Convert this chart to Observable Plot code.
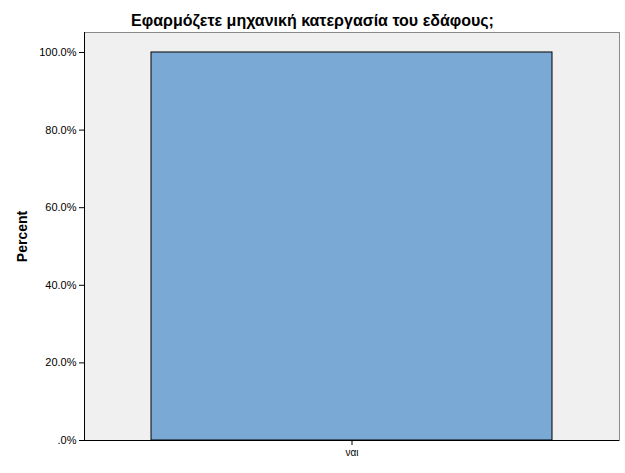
<!DOCTYPE html>
<html><head><meta charset="utf-8">
<script src="https://cdn.jsdelivr.net/npm/d3@7"></script>
<script src="https://cdn.jsdelivr.net/npm/@observablehq/plot@0.6"></script>
<style>
body{margin:0;background:#fff;font-family:"Liberation Sans",Arial,sans-serif}
#title{box-sizing:border-box;height:31px;width:625px;padding-top:13px;text-align:center;font-weight:bold;font-size:16px;line-height:16px;color:#000;white-space:nowrap}
svg{display:block}
</style></head>
<body>
<div id="title">Εφαρμόζετε μηχανική κατεργασία του εδάφους;</div>
<div id="chart"></div>
<script>
const categories = ["ναι"];
const percents = [100];
const yTicks = [0, 20, 40, 60, 80, 100];
const yTickLabels = [".0%", "20.0%", "40.0%", "60.0%", "80.0%", "100.0%"];
const yLabel = "Percent";
const data = categories.map((c, i) => ({category: c, percent: percents[i]}));

const chart = Plot.plot({
  width: 625, height: 442,
  marginTop: 1, marginBottom: 33, marginLeft: 84, marginRight: 6,
  style: {fontFamily: "Liberation Sans, Arial, sans-serif", fontSize: "11px", color: "#000", background: "#fff", overflow: "visible"},
  x: {domain: categories, padding: 1/7},
  y: {domain: [0, 105.15]},
  marks: [
    Plot.frame({fill: "#F0F0F0", stroke: "#8A8A8A"}),
    Plot.barY(data, {x: "category", y: "percent", fill: "#7AA9D6", stroke: "#000", strokeWidth: 1}),
    Plot.frame({anchor: "left", stroke: "#000"}),
    Plot.ruleY([0], {stroke: "#000"}),
    Plot.axisY({ticks: yTicks, tickFormat: (d, i) => yTickLabels[yTicks.indexOf(d)], tickSize: 5, tickPadding: 3, label: null, fontSize: 11}),
    Plot.axisX({tickSize: 5, tickPadding: 3, label: null, fontSize: 10}),
    Plot.text([yLabel], {frameAnchor: "left", textAnchor: "middle", dx: -62, rotate: -90, fontWeight: "bold", fontSize: 14})
  ]
});
document.getElementById("chart").appendChild(chart);
</script>
</body></html>
